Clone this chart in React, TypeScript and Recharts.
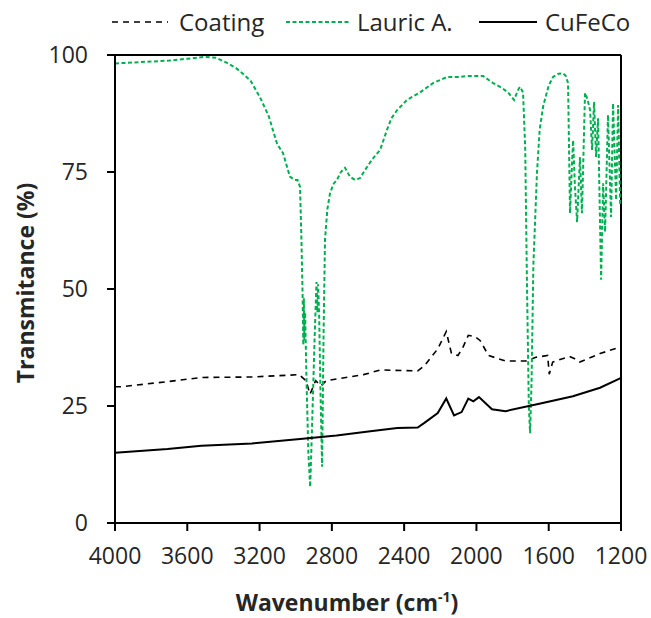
import { LineChart, Line, XAxis, YAxis, ReferenceLine, Label } from 'recharts'

// wavenumber (cm-1) / transmitance (%) pairs
const coatingW = [4000, 3970, 3709, 3522, 3242, 2980, 2943, 2921, 2890, 2860, 2832, 2625, 2531, 2325, 2288, 2214, 2167, 2138, 2102, 2074, 2045, 2008, 1980, 1933, 1839, 1727, 1671, 1606, 1597, 1578, 1485, 1456, 1428, 1316, 1213, 1200]
const coatingT = [29.1, 29.1, 30.2, 31.1, 31.2, 31.7, 30.4, 27.5, 30.4, 29.3, 30.4, 31.7, 32.7, 32.5, 33.6, 37.2, 40.9, 36.2, 35.8, 37.6, 40.1, 39.8, 39.0, 35.8, 34.6, 34.6, 35.4, 35.8, 31.8, 34.4, 35.6, 35.1, 34.4, 36.2, 37.5, 37.7]

const lauricW = [4000, 3900, 3800, 3700, 3600, 3500, 3440, 3380, 3330, 3292, 3250, 3198, 3150, 3103, 3070, 3032, 3005, 2990, 2976, 2968, 2962, 2958, 2955, 2952, 2948, 2940, 2930, 2920, 2910, 2895, 2885, 2880, 2876, 2870, 2864, 2854, 2846, 2838, 2825, 2810, 2790, 2772, 2750, 2727, 2700, 2672, 2644, 2615, 2589, 2560, 2533, 2495, 2470, 2439, 2384, 2312, 2240, 2163, 2100, 2050, 1963, 1908, 1860, 1825, 1792, 1770, 1759, 1742, 1730, 1720, 1710, 1703, 1695, 1685, 1665, 1650, 1631, 1600, 1576, 1545, 1521, 1505, 1493, 1482, 1472, 1465, 1455, 1443, 1427, 1416, 1399, 1385, 1371, 1360, 1349, 1338, 1327, 1310, 1299, 1288, 1272, 1255, 1244, 1227, 1216, 1205, 1200]
const lauricT = [98.2, 98.4, 98.6, 98.8, 99.2, 99.6, 99.4, 98.3, 97.2, 96.0, 94.5, 91.0, 87.0, 81.0, 79.0, 74.0, 73.3, 73.3, 71.8, 60.0, 49.0, 38.0, 48.0, 39.0, 45.0, 30.0, 15.0, 7.7, 20.0, 40.0, 51.5, 45.0, 51.0, 44.0, 30.0, 12.0, 40.0, 60.5, 67.0, 70.5, 72.5, 73.3, 75.0, 75.9, 74.0, 73.3, 73.7, 75.5, 77.0, 78.5, 79.7, 84.0, 86.5, 88.2, 90.4, 92.0, 94.0, 95.3, 95.3, 95.5, 95.5, 94.0, 93.0, 92.0, 90.4, 92.5, 93.2, 92.0, 80.0, 50.0, 25.0, 19.2, 30.0, 55.0, 74.8, 84.0, 89.0, 93.5, 95.3, 96.0, 96.1, 95.5, 94.0, 66.2, 76.0, 81.8, 72.0, 64.3, 78.2, 66.2, 91.9, 90.5, 88.2, 79.7, 90.0, 78.2, 86.5, 52.0, 72.6, 62.2, 87.2, 65.4, 89.7, 69.0, 89.3, 68.4, 68.0]

const cufecoW = [4000, 3709, 3522, 3242, 2961, 2774, 2587, 2438, 2325, 2288, 2214, 2167, 2124, 2082, 2045, 2017, 1986, 1914, 1839, 1652, 1466, 1316, 1211, 1200]
const cufecoT = [15.0, 15.8, 16.5, 17.0, 18.0, 18.7, 19.6, 20.3, 20.4, 21.4, 23.5, 26.6, 23.0, 23.7, 26.6, 26.0, 26.9, 24.3, 23.9, 25.5, 27.1, 28.9, 30.8, 31.0]

const xTicks = [4000, 3600, 3200, 2800, 2400, 2000, 1600, 1200]
const yTicks = [0, 25, 50, 75, 100]

const zip = (w: number[], t: number[]) => w.map((x, i) => ({ w: x, t: t[i] }))
const coating = zip(coatingW, coatingT)
const lauric = zip(lauricW, lauricT)
const cufeco = zip(cufecoW, cufecoT)

const FONT = '"Open Sans", sans-serif'
const INK = '#262626'
const GREEN = '#00b050'

const xTitle = () => (
  <text x={347} y={611} textAnchor="middle" fontFamily={FONT} fontSize={23} fontWeight="bold" fill={INK}>
    Wavenumber (cm<tspan dy={-9} fontSize={14}>-1</tspan><tspan dy={9}>)</tspan>
  </text>
)

const yTitle = () => (
  <text x={0} y={0} transform="translate(34,283) rotate(-90)" textAnchor="middle" fontFamily={FONT} fontSize={23} fontWeight="bold" fill={INK}>
    Transmitance (%)
  </text>
)

function LegendBar() {
  const text = { fontFamily: FONT, fontSize: 24, fill: INK }
  return (
    <svg width={651} height={45} style={{ position: 'absolute', left: 0, top: 0 }}>
      <line x1={112} x2={168} y1={22} y2={22} stroke="#000" strokeWidth={1.6} strokeDasharray="6 5" />
      <text x={179} y={31} {...text}>Coating</text>
      <line x1={286} x2={351} y1={22} y2={22} stroke={GREEN} strokeWidth={2} strokeDasharray="4 2.5" />
      <text x={357} y={31} {...text}>Lauric A.</text>
      <line x1={479} x2={537} y1={22} y2={22} stroke="#000" strokeWidth={2} />
      <text x={545} y={31} {...text}>CuFeCo</text>
    </svg>
  )
}

export default function App() {
  const tick = { fill: INK, fontSize: 23, fontFamily: FONT }
  return (
    <div style={{ position: 'absolute', left: 0, top: 0, width: 651, height: 618, background: '#fff' }}>
      <LineChart width={651} height={618} margin={{ top: 55, right: 30, bottom: 0, left: 0 }}>
        <XAxis
          type="number"
          dataKey="w"
          domain={[1200, 4000]}
          reversed
          ticks={xTicks}
          allowDataOverflow
          height={95}
          tickSize={8}
          tickMargin={17}
          tick={tick}
          tickLine={{ stroke: '#000', strokeWidth: 2 }}
          axisLine={{ stroke: '#000', strokeWidth: 2 }}
        >
          <Label content={xTitle} />
        </XAxis>
        <YAxis
          type="number"
          dataKey="t"
          domain={[0, 100]}
          ticks={yTicks}
          width={115}
          tickSize={8}
          tickMargin={19}
          tick={tick}
          tickLine={{ stroke: '#000', strokeWidth: 2 }}
          axisLine={{ stroke: '#000', strokeWidth: 2 }}
        >
          <Label content={yTitle} />
        </YAxis>
        <ReferenceLine y={100} stroke="#000" strokeWidth={2} />
        <ReferenceLine x={1200} stroke="#000" strokeWidth={2} />
        <Line data={coating} dataKey="t" type="linear" stroke="#000" strokeWidth={1.6} strokeDasharray="6 5" dot={false} isAnimationActive={false} />
        <Line data={lauric} dataKey="t" type="linear" stroke={GREEN} strokeWidth={2} strokeDasharray="4 2.5" dot={false} isAnimationActive={false} />
        <Line data={cufeco} dataKey="t" type="linear" stroke="#000" strokeWidth={2} dot={false} isAnimationActive={false} />
      </LineChart>
      <LegendBar />
    </div>
  )
}
